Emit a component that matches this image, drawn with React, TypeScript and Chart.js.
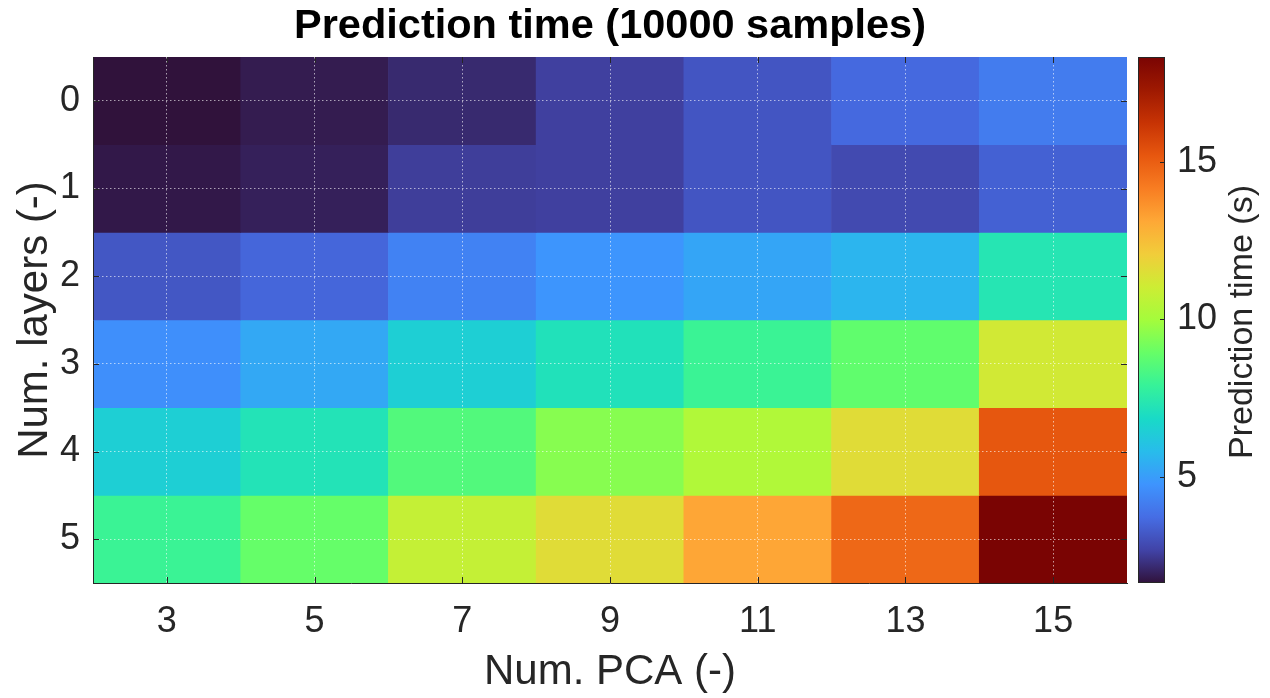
import React, { useEffect, useRef } from 'react';
import { Chart, registerables } from 'chart.js';
Chart.register(...registerables);

const FONT = "'Liberation Sans', Arial, Helvetica, sans-serif";
const TEXT = '#262626';

// ---- data ----
const pcaLabels = ['3', '5', '7', '9', '11', '13', '15'];
const layers = [0, 1, 2, 3, 4, 5];
const row0 = [1.63, 1.83, 2.13, 2.6, 3.13, 3.63, 4.13];
const row1 = [1.76, 1.93, 2.55, 2.6, 3.13, 2.83, 3.43];
const row2 = [3.17, 3.55, 4.3, 4.8, 5.22, 5.64, 7.31];
const row3 = [4.64, 5.3, 6.47, 7.14, 7.98, 8.81, 11.15];
const row4 = [6.47, 7.22, 8.5, 9.48, 10.31, 11.57, 15.2];
const row5 = [7.98, 8.9, 10.8, 11.57, 13.15, 14.74, 18.33];
const rows = [row0, row1, row2, row3, row4, row5];
const colorbarTicks = [5, 10, 15];
const cMin = 1.63;
const cMax = 18.33;

// turbo colormap anchors (17 evenly spaced)
const turboAnchors = [
  [0.190, 0.072, 0.232],
  [0.254, 0.264, 0.654],
  [0.274, 0.426, 0.895],
  [0.243, 0.579, 0.996],
  [0.158, 0.736, 0.923],
  [0.097, 0.855, 0.781],
  [0.213, 0.949, 0.601],
  [0.401, 0.997, 0.404],
  [0.644, 0.990, 0.234],
  [0.804, 0.929, 0.205],
  [0.946, 0.803, 0.228],
  [0.997, 0.657, 0.213],
  [0.973, 0.489, 0.133],
  [0.904, 0.342, 0.058],
  [0.780, 0.200, 0.014],
  [0.620, 0.098, 0.004],
  [0.480, 0.016, 0.011],
];

function rgb(c: number[]) {
  return `rgb(${Math.round(c[0] * 255)},${Math.round(c[1] * 255)},${Math.round(c[2] * 255)})`;
}
function turbo(t: number) {
  const tt = Math.max(0, Math.min(1, t)) * 16;
  const i = Math.min(15, Math.floor(tt));
  const f = tt - i;
  const a = turboAnchors[i], b = turboAnchors[i + 1];
  return rgb([a[0] + (b[0] - a[0]) * f, a[1] + (b[1] - a[1]) * f, a[2] + (b[2] - a[2]) * f]);
}
const colorFor = (v: number) => turbo((v - cMin) / (cMax - cMin));

const decoPlugin = {
  id: 'deco',
  afterDraw(chart: any) {
    const { ctx, chartArea } = chart;
    const xs = chart.scales.x, ys = chart.scales.y, s = chart.scales.cb;
    ctx.save();
    // inside tick marks on all four sides
    ctx.strokeStyle = TEXT;
    ctx.lineWidth = 1;
    ctx.beginPath();
    xs.ticks.forEach((_: any, i: number) => {
      const x = Math.round(xs.getPixelForTick(i)) + 0.5;
      ctx.moveTo(x, chartArea.bottom); ctx.lineTo(x, chartArea.bottom - 6);
      ctx.moveTo(x, chartArea.top); ctx.lineTo(x, chartArea.top + 6);
    });
    ys.ticks.forEach((_: any, i: number) => {
      const y = Math.round(ys.getPixelForTick(i)) + 0.5;
      ctx.moveTo(chartArea.left, y); ctx.lineTo(chartArea.left + 6, y);
      ctx.moveTo(chartArea.right, y); ctx.lineTo(chartArea.right - 6, y);
    });
    ctx.stroke();

    // colorbar
    const x0 = chartArea.right + 11, w = 27;
    const yTop = s.getPixelForValue(cMax), yBot = s.getPixelForValue(cMin);
    const g = ctx.createLinearGradient(0, yBot, 0, yTop);
    turboAnchors.forEach((c, i) => g.addColorStop(i / 16, rgb(c)));
    ctx.fillStyle = g;
    ctx.fillRect(x0, yTop, w, yBot - yTop);
    ctx.strokeStyle = TEXT;
    ctx.strokeRect(x0 + 0.5, yTop + 0.5, w - 1, yBot - yTop - 1);
    ctx.beginPath();
    colorbarTicks.forEach((v) => {
      const y = Math.round(s.getPixelForValue(v)) + 0.5;
      ctx.moveTo(x0 + w - 5, y); ctx.lineTo(x0 + w, y);
    });
    ctx.stroke();

    // colorbar title
    ctx.translate(1243, (yTop + yBot) / 2 + 2);
    ctx.rotate(-Math.PI / 2);
    ctx.fillStyle = TEXT;
    ctx.font = `34px ${FONT}`;
    ctx.textAlign = 'center';
    ctx.textBaseline = 'middle';
    ctx.fillText('Prediction time (s)', 0, 0);
    ctx.restore();
  },
};

export default function App() {
  const ref = useRef<HTMLCanvasElement>(null);
  useEffect(() => {
    if (!ref.current) return;
    const datasets = rows.map((vals, r) => ({
      label: `Layers ${layers[r]}`,
      data: vals.map(() => [layers[r] - 0.5, layers[r] + 0.5]),
      backgroundColor: vals.map(colorFor),
      borderWidth: 0,
      barPercentage: 1,
      categoryPercentage: 1,
      grouped: false,
    }));
    const gridColor = 'rgba(255,255,255,0.6)';
    const chart = new Chart(ref.current, {
      type: 'bar',
      data: { labels: pcaLabels, datasets: datasets as any },
      plugins: [decoPlugin],
      options: {
        animation: false,
        responsive: true,
        maintainAspectRatio: false,
        layout: { padding: 0 },
        plugins: {
          legend: { display: false },
          tooltip: { enabled: false },
          title: {
            display: true,
            fullSize: false,
            text: 'Prediction time (10000 samples)',
            color: '#000',
            font: { family: FONT, size: 41.5, weight: 'bold' },
            padding: { top: 2, bottom: 5.2 },
          },
        },
        scales: {
          x: {
            type: 'category',
            grid: { display: true, offset: false, color: gridColor, drawTicks: false, z: 1 },
            border: { display: true, color: TEXT, width: 1, dash: [1.5, 2.5], z: 2 },
            ticks: { color: TEXT, font: { family: FONT, size: 36 }, padding: 17 },
            title: {
              display: true,
              text: 'Num. PCA (-)',
              color: TEXT,
              font: { family: FONT, size: 42 },
              padding: { top: 0, bottom: 0 },
            },
            afterFit: (sc: any) => { sc.height = 115; sc.paddingLeft = 0; sc.paddingRight = 0; },
          },
          y: {
            type: 'linear',
            reverse: true,
            min: -0.5,
            max: 5.5,
            afterBuildTicks: (sc: any) => { sc.ticks = layers.map((v) => ({ value: v })); },
            grid: { display: true, color: gridColor, drawTicks: false, z: 1 },
            border: { display: true, color: TEXT, width: 1, dash: [1.5, 2.5], z: 2 },
            ticks: { color: TEXT, font: { family: FONT, size: 36 }, padding: 13, callback: (v: any) => String(v) },
            title: {
              display: true,
              text: 'Num. layers (-)',
              color: TEXT,
              font: { family: FONT, size: 42 },
              padding: { top: 10, bottom: 0 },
            },
            afterFit: (sc: any) => { sc.width = 93; sc.paddingTop = 0; sc.paddingBottom = 0; },
          },
          cb: {
            type: 'linear',
            position: 'right',
            min: cMin,
            max: cMax,
            afterBuildTicks: (sc: any) => { sc.ticks = colorbarTicks.map((v) => ({ value: v })); },
            grid: { display: false, drawTicks: false },
            border: { display: false },
            ticks: { color: TEXT, font: { family: FONT, size: 36 }, padding: 50 },
            afterFit: (sc: any) => { sc.width = 143; sc.paddingTop = 0; sc.paddingBottom = 0; },
          },
        },
      } as any,
    });
    return () => chart.destroy();
  }, []);
  return (
    <div style={{ position: 'absolute', left: 0, top: 0, width: 1270, height: 698, background: '#fff' }}>
      <canvas ref={ref} />
    </div>
  );
}
